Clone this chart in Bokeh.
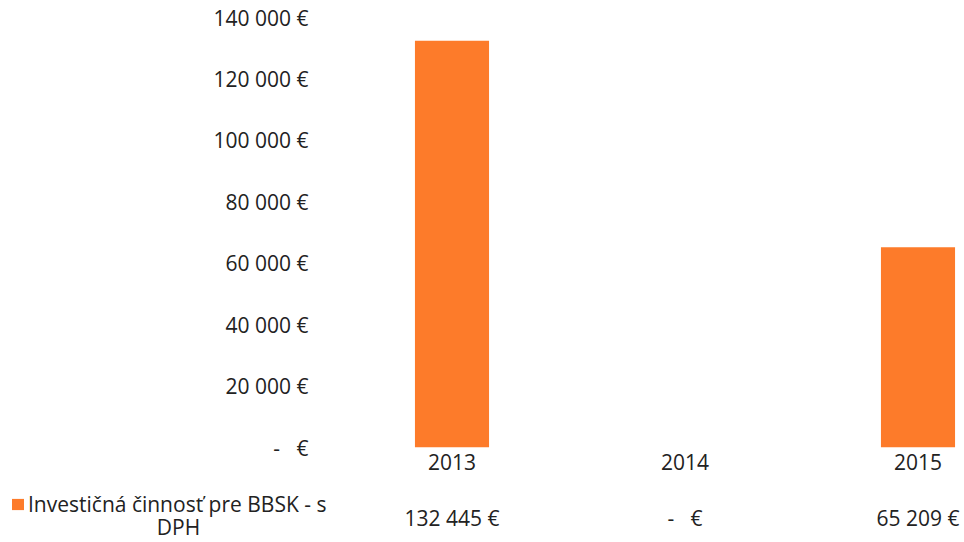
from bokeh.plotting import figure
from bokeh.layouts import column
from bokeh.models import (Range1d, FixedTicker, Legend, LegendItem, Label,
                          ColumnDataSource)
from bokeh.core.properties import value
from bokeh.embed import file_html
from bokeh.resources import INLINE

# ---- data ----
years = ["2013", "2014", "2015"]
values = [132445, 0, 65209]
value_labels = ["132 445 €", "-\u00a0\u00a0\u00a0€", "65 209 €"]
y_ticks = [0, 20000, 40000, 60000, 80000, 100000, 120000, 140000]
y_tick_labels = ["-\u00a0\u00a0\u00a0€", "20 000 €", "40 000 €", "60 000 €",
                 "80 000 €", "100 000 €", "120 000 €", "140 000 €"]
series_name_lines = ["Investičná činnosť pre BBSK - s", "DPH"]

FONT = "Open Sans"
TXT = "#222222"
BAR = "#FD7B2A"
FS = "21px"
W = 960
PX_PER_CAT = 233.0
LEFT = 335

xs = list(range(len(years)))
src = ColumnDataSource(dict(x=xs, top=values, label=value_labels))

x_end = -0.5 + (W - LEFT) / PX_PER_CAT

# ---- main chart ----
p = figure(width=W, height=480, output_backend="svg", toolbar_location=None,
           x_range=Range1d(-0.5, x_end), y_range=Range1d(0, 140000),
           min_border_left=LEFT, min_border_right=0, min_border_top=17,
           min_border_bottom=33)
p.frame_align = False
p.outline_line_color = None
p.xgrid.visible = False
p.ygrid.visible = False

bars = p.vbar(x="x", top="top", bottom=0, width=0.318, source=src,
              fill_color=BAR, line_color=None)

def style(ax, standoff):
    ax.axis_line_color = None
    ax.major_tick_line_color = None
    ax.minor_tick_line_color = None
    ax.major_tick_out = 0
    ax.major_tick_in = 0
    ax.minor_tick_out = 0
    ax.minor_tick_in = 0
    ax.major_label_text_font = FONT
    ax.major_label_text_font_size = FS
    ax.major_label_text_color = TXT
    ax.major_label_standoff = standoff

yax = p.yaxis[0]
yax.ticker = FixedTicker(ticks=y_ticks)
yax.major_label_overrides = {t: l for t, l in zip(y_ticks, y_tick_labels)}
style(yax, 27)

xax = p.xaxis[0]
xax.ticker = FixedTicker(ticks=xs)
xax.major_label_overrides = {i: y for i, y in zip(xs, years)}
style(xax, 6)

# ---- data table row (values + legend) ----
H2 = 60
t = figure(width=W, height=H2, output_backend="svg", toolbar_location=None,
           x_range=Range1d(-0.5 - LEFT / PX_PER_CAT, x_end),
           y_range=Range1d(H2, 0),
           min_border_left=0, min_border_right=0, min_border_top=0,
           min_border_bottom=0, x_axis_location=None, y_axis_location=None)
t.frame_align = False
t.outline_line_color = None
t.xgrid.visible = False
t.ygrid.visible = False

t.text(x="x", y=37, text="label", source=src, text_align="center",
       text_baseline="middle", text_font=value(FONT), text_font_size=FS,
       text_color=TXT)

# legend key: same bar series, hidden in this strip (only its legend glyph shows)
key = t.vbar(x="x", top="top", bottom=0, width=0.318, source=src,
             fill_color=BAR, line_color=None, visible=False)
legend = Legend(items=[LegendItem(label=series_name_lines[0], renderers=[key])],
                location="top_left", orientation="vertical",
                border_line_color=None, background_fill_alpha=0,
                inactive_fill_alpha=0,
                padding=0, margin=10, glyph_width=15, glyph_height=14,
                label_standoff=3, label_text_font=FONT,
                label_text_font_size=FS, label_text_color=TXT)
t.add_layout(legend, "center")

# wrapped second line of the legend label, centred under the first line
t.add_layout(Label(x=178, y=14, x_units="screen", y_units="screen",
                   text=series_name_lines[1], text_align="center",
                   text_baseline="middle", text_font=FONT,
                   text_font_size=FS, text_color=TXT))

layout = column(p, t, spacing=0)
open("out.html", "w").write(file_html(layout, INLINE))
